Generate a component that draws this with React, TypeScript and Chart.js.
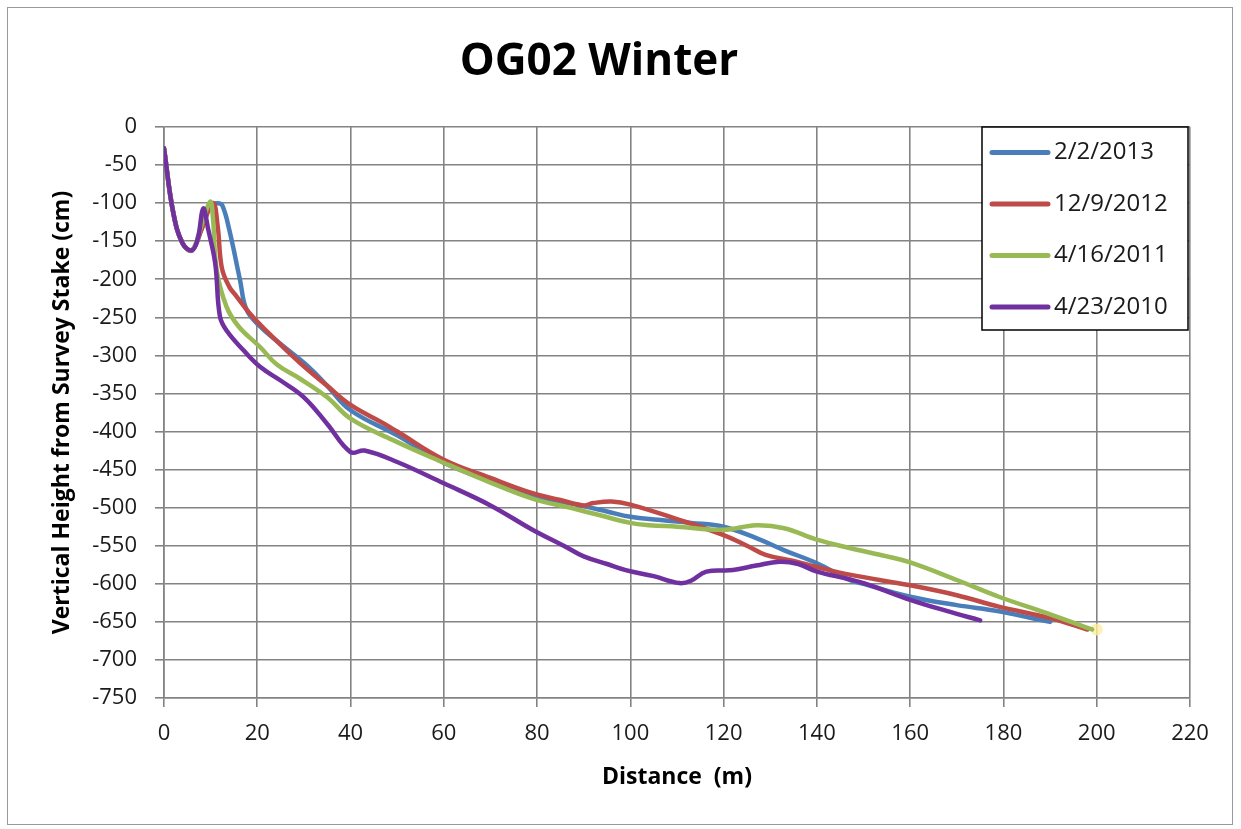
import { useEffect, useRef } from "react";
import { Chart, registerables } from "chart.js";
Chart.register(...registerables);

const FONT = "'Open Sans', sans-serif";

const titleText = "OG02 Winter";
const xTitle = "Distance  (m)";
const yTitle = "Vertical Height from Survey Stake (cm)";

const seriesLabels = ["2/2/2013", "12/9/2012", "4/16/2011", "4/23/2010"];
const seriesColors = ["#4a7ebb", "#be4b48", "#98b954", "#7030a0"];

const blueX = [0, 2, 4, 6, 8, 10, 11.5, 12.5, 14, 16.3, 17.7, 20.6, 25, 31, 35, 40, 50, 60, 70, 80, 90, 95, 100, 106, 113, 120, 127, 133, 140, 147, 150, 160, 170, 179, 186, 190];
const blueY = [-28, -113, -153, -162, -135, -103, -100, -103, -135, -201, -240, -262, -285, -315, -340, -372, -405, -441, -465, -485, -498, -505, -512, -516, -520, -525, -540, -556, -573, -595, -600, -617, -628, -636, -645, -650];

const redX = [0, 2, 4, 6, 8, 10.5, 11.5, 12.4, 14, 15.5, 18.4, 22, 29.2, 35, 40, 47, 50, 60, 70, 79, 85, 90, 92, 96, 100, 110, 120, 125, 129, 135, 140, 147, 160, 170, 179, 190, 198];
const redY = [-28, -113, -153, -162, -135, -100, -130, -185, -210, -222, -245, -268, -310, -340, -365, -389, -400, -437, -461, -481, -490, -497, -494, -492, -496, -515, -536, -550, -562, -570, -578, -588, -602, -615, -630, -645, -660];

const greenX = [0, 2, 4, 6, 8, 9.9, 10.5, 11.3, 13.4, 16, 20.6, 24.2, 29, 35, 40, 49, 60, 70, 79, 87, 93.5, 100, 104, 110, 120, 127, 133, 140, 147, 155, 160, 170, 179, 190, 199];
const greenY = [-28, -113, -153, -162, -130, -98, -120, -188, -236, -262, -289, -312, -330, -355, -383, -411, -441, -467, -488, -500, -510, -520, -523, -525, -529, -523, -527, -542, -553, -564, -572, -595, -617, -640, -660];

const purpleX = [0, 2, 4, 6, 7.3, 8.4, 9.5, 11, 12, 13.5, 17, 20.6, 25, 30, 35, 40, 43, 50, 60, 70, 79, 86, 90, 95, 99, 105, 110.5, 113, 116.3, 122, 127, 132, 136, 140, 147, 151, 160, 168, 175];
const purpleY = [-28, -113, -153, -162, -145, -107, -135, -180, -249, -268, -293, -315, -333, -355, -390, -427, -425, -440, -468, -497, -529, -551, -564, -574, -582, -590, -599, -596, -584, -582, -576, -571, -574, -584, -594, -601, -621, -636, -648];

const endDotX = [200];
const endDotY = [-660];

const toPoints = (xs: number[], ys: number[]) => xs.map((x, i) => ({ x, y: ys[i] }));

const legendPlugin = {
  id: "boxLegend",
  afterDatasetsDraw(chart: any) {
    const { ctx, chartArea } = chart;
    const right = chartArea.right - 2;
    const top = chartArea.top;
    const left = right - 206;
    const bottom = top + 203;
    ctx.save();
    ctx.fillStyle = "#ffffff";
    ctx.fillRect(left, top, right - left, bottom - top);
    ctx.strokeStyle = "#000000";
    ctx.lineWidth = 1.5;
    ctx.strokeRect(left, top, right - left, bottom - top);
    ctx.font = `24px ${FONT}`;
    ctx.textBaseline = "middle";
    ctx.textAlign = "left";
    seriesLabels.forEach((lab, i) => {
      const y = top + 25.5 + i * 51.5;
      ctx.strokeStyle = seriesColors[i];
      ctx.lineWidth = 5;
      ctx.lineCap = "round";
      ctx.beginPath();
      ctx.moveTo(left + 10, y);
      ctx.lineTo(left + 66, y);
      ctx.stroke();
      ctx.fillStyle = "#1a1a1a";
      ctx.fillText(lab, left + 72, y);
    });
    ctx.restore();
  },
};

export default function App() {
  const ref = useRef<HTMLCanvasElement>(null);
  useEffect(() => {
    if (!ref.current) return;
    const series = [
      { x: blueX, y: blueY },
      { x: redX, y: redY },
      { x: greenX, y: greenY },
      { x: purpleX, y: purpleY },
    ];
    const datasets: any[] = series.map((s, i) => ({
      label: seriesLabels[i],
      data: toPoints(s.x, s.y),
      borderColor: seriesColors[i],
      backgroundColor: seriesColors[i],
      borderWidth: 4.5,
      pointRadius: 0,
      tension: 0.4,
      fill: false,
      order: 3 - i,
      borderCapStyle: "round",
      borderJoinStyle: "round",
    }));
    datasets.push({
      label: "end",
      data: toPoints(endDotX, endDotY),
      showLine: false,
      pointRadius: 6,
      pointBackgroundColor: "rgba(255,236,160,0.8)",
      pointBorderWidth: 0,
      order: 5,
    });
    const gridColor = "#838383";
    const chart = new Chart(ref.current, {
      type: "line",
      data: { datasets },
      plugins: [legendPlugin],
      options: {
        animation: false,
        responsive: false,
        maintainAspectRatio: false,
        layout: { padding: { left: 0, right: 42, top: 0, bottom: 0 } },
        plugins: {
          legend: { display: false },
          tooltip: { enabled: false },
          title: {
            display: true,
            text: titleText,
            color: "#000",
            font: { family: FONT, size: 44, weight: "bold", lineHeight: 1.2 },
            padding: { top: 27.6, bottom: 38.6 },
          },
        },
        scales: {
          x: {
            type: "linear",
            min: 0,
            max: 220,
            ticks: { stepSize: 20, color: "#1a1a1a", font: { family: FONT, size: 22 }, padding: 14, maxRotation: 0 },
            grid: { color: gridColor, lineWidth: 1.6, tickLength: 9 },
            border: { color: gridColor, width: 1.6 },
            title: {
              display: true,
              text: xTitle,
              color: "#000",
              font: { family: FONT, size: 23, weight: "bold", lineHeight: 1.2 },
              padding: { top: 0, bottom: 33 },
            },
            afterFit: (s: any) => { s.height = 126; },
          },
          y: {
            type: "linear",
            min: -750,
            max: 0,
            ticks: { stepSize: 50, color: "#1a1a1a", font: { family: FONT, size: 22 }, padding: 18 },
            grid: { color: gridColor, lineWidth: 1.6, tickLength: 9 },
            border: { color: gridColor, width: 1.6 },
            title: {
              display: true,
              text: yTitle,
              color: "#000",
              font: { family: FONT, size: 23, weight: "bold", lineHeight: 1.2 },
              padding: { top: 41, bottom: 0 },
            },
            afterFit: (s: any) => { s.width = 156; },
          },
        },
      },
    } as any);
    return () => chart.destroy();
  }, []);
  return (
    <div style={{ position: "absolute", left: 7, top: 7, width: 1224, height: 816, border: "1px solid #9a9a9a", background: "#fff" }}>
      <canvas ref={ref} width={1224} height={816} style={{ display: "block", width: 1224, height: 816 }} />
    </div>
  );
}
